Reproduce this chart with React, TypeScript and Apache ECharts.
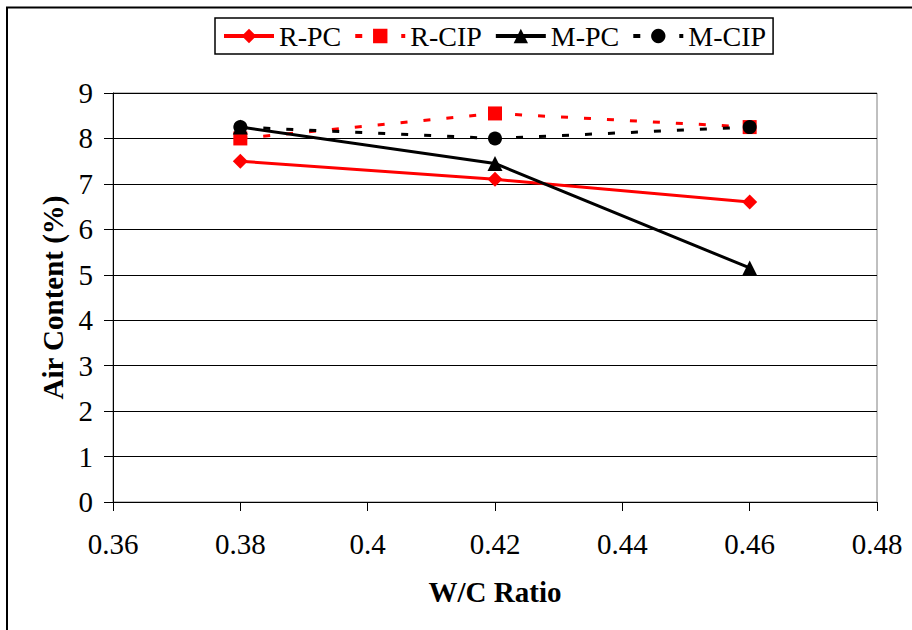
import React, { useEffect, useRef } from "react";
import * as echarts from "echarts";

const wcRatio = [0.38, 0.42, 0.46];
const rPC = [7.5, 7.1, 6.6];
const rCIP = [8.0, 8.55, 8.25];
const mPC = [8.25, 7.45, 5.15];
const mCIP = [8.25, 8.0, 8.25];
const seriesNames = ["R-PC", "R-CIP", "M-PC", "M-CIP"];

const FONT = '"Liberation Serif", "Times New Roman", Times, serif';

const pairs = (ys: number[]) => wcRatio.map((x, i) => [x, ys[i]]);

export default function App() {
  const ref = useRef<HTMLDivElement>(null);
  useEffect(() => {
    if (!ref.current) return;
    const chart = echarts.init(ref.current, null, { renderer: "svg" });
    const dash = [7, 16];
    chart.setOption({
      animation: false,
      backgroundColor: "#fff",
      textStyle: { fontFamily: FONT },
      grid: {
        left: 113,
        right: 35,
        top: 93,
        bottom: 128,
        show: true,
        borderColor: "#808080",
        borderWidth: 1,
      },
      legend: {
        data: seriesNames,
        left: 215,
        top: 18,
        orient: "horizontal",
        itemWidth: 50,
        itemHeight: 18,
        itemGap: 12,
        padding: [4, 7],
        borderColor: "#000",
        borderWidth: 1.5,
        backgroundColor: "#fff",
        lineStyle: { width: 4 },
        textStyle: { fontFamily: FONT, fontSize: 28, color: "#000" },
      },
      xAxis: {
        type: "value",
        min: 0.36,
        max: 0.48,
        interval: 0.02,
        name: "W/C Ratio",
        nameLocation: "middle",
        nameGap: 75,
        nameTextStyle: { fontFamily: FONT, fontSize: 29, fontWeight: "bold", color: "#000" },
        axisLine: { show: true, onZero: false, lineStyle: { color: "#000", width: 1 } },
        axisTick: { show: true, inside: false, length: 9, lineStyle: { color: "#000" } },
        axisLabel: {
          margin: 27,
          fontFamily: FONT,
          fontSize: 29,
          color: "#000",
          formatter: (v: number) => String(Math.round(v * 100) / 100),
        },
        splitLine: { show: false },
      },
      yAxis: {
        type: "value",
        min: 0,
        max: 9,
        interval: 1,
        name: "Air Content (%)",
        nameLocation: "middle",
        nameGap: 44,
        nameTextStyle: { fontFamily: FONT, fontSize: 29, fontWeight: "bold", color: "#000" },
        axisLine: { show: true, lineStyle: { color: "#000", width: 1 } },
        axisTick: { show: true, inside: false, length: 9, lineStyle: { color: "#000" } },
        axisLabel: { margin: 20, fontFamily: FONT, fontSize: 29, color: "#000" },
        splitLine: { show: true, lineStyle: { color: "#000", width: 1 } },
      },
      series: [
        {
          name: "R-PC",
          type: "line",
          data: pairs(rPC),
          symbol: "diamond",
          symbolSize: 15,
          lineStyle: { color: "#ff0000", width: 3 },
          itemStyle: { color: "#ff0000" },
          z: 3,
        },
        {
          name: "R-CIP",
          type: "line",
          data: pairs(rCIP),
          symbol: "rect",
          symbolSize: 14,
          lineStyle: { color: "#ff0000", width: 3, type: dash },
          itemStyle: { color: "#ff0000" },
          z: 2,
        },
        {
          name: "M-PC",
          type: "line",
          data: pairs(mPC),
          symbol: "triangle",
          symbolSize: 15,
          lineStyle: { color: "#000", width: 3 },
          itemStyle: { color: "#000" },
          z: 4,
        },
        {
          name: "M-CIP",
          type: "line",
          data: pairs(mCIP),
          symbol: "circle",
          symbolSize: 14,
          lineStyle: { color: "#000", width: 3, type: dash },
          itemStyle: { color: "#000" },
          z: 5,
        },
      ],
      graphic: [
        {
          type: "line",
          shape: { x1: 6, y1: 7.5, x2: 912, y2: 7.5 },
          style: { stroke: "#000", lineWidth: 2 },
          silent: true,
        },
        {
          type: "line",
          shape: { x1: 7, y1: 7, x2: 7, y2: 630 },
          style: { stroke: "#000", lineWidth: 2 },
          silent: true,
        },
      ],
    });
    return () => chart.dispose();
  }, []);
  return (
    <div
      ref={ref}
      style={{ position: "fixed", left: 0, top: 0, width: 912, height: 630, background: "#fff" }}
    />
  );
}
